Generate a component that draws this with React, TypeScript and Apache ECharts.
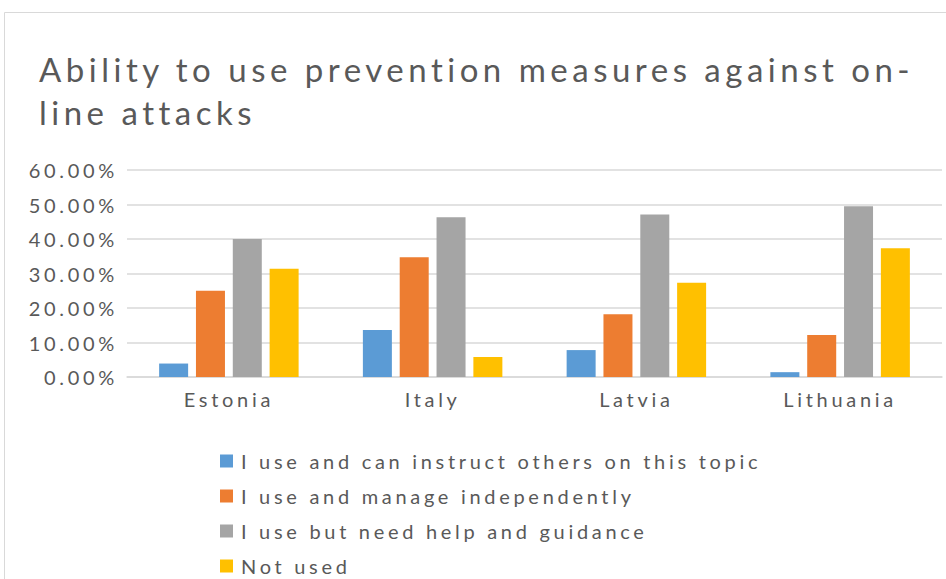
import React, { useEffect, useRef } from "react";
import * as echarts from "echarts";

const titleText = "Ability to use prevention measures against on-\nline attacks";
const categories = ["Estonia", "Italy", "Latvia", "Lithuania"];
const seriesNames = [
  "I use and can instruct others on this topic",
  "I use and manage independently",
  "I use but need help and guidance",
  "Not used",
];
const instructOthers = [3.9, 13.6, 7.8, 1.4];
const manageIndependently = [25.0, 34.7, 18.2, 12.2];
const needHelp = [40.0, 46.3, 47.1, 49.5];
const notUsed = [31.4, 5.8, 27.3, 37.3];
const seriesValues = [instructOthers, manageIndependently, needHelp, notUsed];
const colors = ["#5b9bd5", "#ed7d31", "#a5a5a5", "#ffc000"];
const yMax = 60;
const yInterval = 10;

const FONT = "Lato, 'Open Sans', sans-serif";
const TEXT = "#595959";

export default function App() {
  const ref = useRef<HTMLDivElement>(null);
  useEffect(() => {
    if (!ref.current) return;
    const chart = echarts.init(ref.current, null, { renderer: "svg" });
    chart.setOption({
      animation: false,
      backgroundColor: "#ffffff",
      color: colors,
      textStyle: { fontFamily: FONT, color: TEXT },
      title: {
        text: titleText,
        left: 34,
        top: 42,
        textStyle: { fontSize: 33, fontWeight: "normal", color: TEXT, lineHeight: 43, fontFamily: FONT },
      },
      graphic: [
        {
          type: "polyline",
          shape: { points: [[4.5, 579], [4.5, 12.5], [946, 12.5]] },
          style: { stroke: "#d9d9d9", lineWidth: 1, fill: "none" },
          silent: true,
        },
      ],
      legend: {
        orient: "vertical",
        left: 220,
        top: 451,
        height: 128,
        padding: 0,
        icon: "rect",
        itemWidth: 13,
        itemHeight: 13,
        itemGap: 15,
        textStyle: { fontSize: 20, color: TEXT, fontFamily: FONT, padding: [0, 0, 0, 3] },
        data: seriesNames,
      },
      grid: { left: 127, right: 4, top: 170, bottom: 202, containLabel: false },
      xAxis: {
        type: "category",
        data: categories,
        axisLine: { lineStyle: { color: "#d9d9d9", width: 1.5 } },
        axisTick: { show: false },
        axisLabel: { fontSize: 20, color: TEXT, margin: 12, fontFamily: FONT },
      },
      yAxis: {
        type: "value",
        min: 0,
        max: yMax,
        interval: yInterval,
        axisLine: { show: false },
        axisTick: { show: false },
        splitLine: { lineStyle: { color: "#d9d9d9", width: 1.5 } },
        axisLabel: {
          fontSize: 20,
          color: TEXT,
          margin: 9,
          fontFamily: FONT,
          formatter: (v: number) => `${v.toFixed(2)}%`,
        },
      },
      series: seriesNames.map((name, i) => ({
        name,
        type: "bar",
        data: seriesValues[i],
        barWidth: 29,
        barGap: "27%",
        itemStyle: { color: colors[i] },
      })),
    });
    return () => chart.dispose();
  }, []);
  return (
    <>
      <style>{`#chartbox text{letter-spacing:3.7px}#chartbox text[style*="33px"]{letter-spacing:4.5px}`}</style>
      <div
        id="chartbox"
        ref={ref}
        style={{ position: "fixed", left: 0, top: 0, width: 946, height: 579 }}
      />
    </>
  );
}
